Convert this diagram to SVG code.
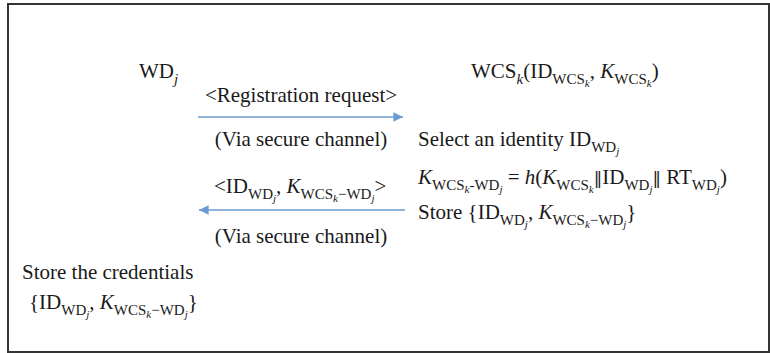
<svg xmlns="http://www.w3.org/2000/svg" width="770" height="353" viewBox="0 0 770 353">
<style>
text{font-family:"Liberation Serif","Times New Roman",serif;font-size:21px;fill:#1a1a1a}
.s{font-size:15px}
.ss{font-size:11px}
.i{font-style:italic}
.bar{font-family:"DejaVu Serif",serif;font-size:17px}
.conn{stroke:#6C9BD2;stroke-width:1.6;fill:none}
</style>
<defs>
<marker id="ah" viewBox="0 0 10 10" refX="10" refY="5" markerWidth="6" markerHeight="6" markerUnits="strokeWidth" orient="auto">
<path d="M0,0 L10,5 L0,10 Z" fill="#6C9BD2"/>
</marker>
</defs>
<rect x="8" y="4" width="761" height="348" fill="#fff" stroke="#333" stroke-width="2"/>
<g id="connectors">
<line class="conn" x1="198" y1="117" x2="403" y2="117" marker-end="url(#ah)"/>
<line class="conn" x1="405" y1="210" x2="199" y2="210" marker-end="url(#ah)"/>
</g>
<g id="node-wd">
<text x="139" y="78">WD<tspan class="s i" y="84">j</tspan></text>
</g>
<g id="node-wcs">
<text x="471" y="78">WCS<tspan class="s i" y="84">k</tspan><tspan y="78">(ID</tspan><tspan class="s" y="84">WCS</tspan><tspan class="ss i" y="87">k</tspan><tspan y="78">, </tspan><tspan class="i" y="78">K</tspan><tspan class="s" y="84">WCS</tspan><tspan class="ss i" y="87">k</tspan><tspan y="78">)</tspan></text>
</g>
<g id="msg1">
<text x="301" y="102" text-anchor="middle">&lt;Registration request&gt;</text>
<text x="301" y="146" text-anchor="middle">(Via secure channel)</text>
</g>
<g id="wcs-steps">
<text x="418" y="146">Select an identity ID<tspan class="s" y="152">WD</tspan><tspan class="ss i" y="155">j</tspan></text>
<text x="418" y="184"><tspan class="i">K</tspan><tspan class="s" y="190">WCS</tspan><tspan class="ss i" y="193">k</tspan><tspan class="s" y="190">-WD</tspan><tspan class="ss i" y="193">j</tspan><tspan y="184"> = </tspan><tspan class="i" y="184">h</tspan><tspan y="184">(</tspan><tspan class="i" y="184">K</tspan><tspan class="s" y="190">WCS</tspan><tspan class="ss i" y="193">k</tspan><tspan class="bar" y="184">‖</tspan><tspan y="184">ID</tspan><tspan class="s" y="190">WD</tspan><tspan class="ss i" y="193">j</tspan><tspan class="bar" y="184">‖</tspan><tspan y="184"> RT</tspan><tspan class="s" y="190">WD</tspan><tspan class="ss i" y="193">j</tspan><tspan y="184">)</tspan></text>
<text x="418" y="219">Store {ID<tspan class="s" y="225">WD</tspan><tspan class="ss i" y="228">j</tspan><tspan y="219">, </tspan><tspan class="i" y="219">K</tspan><tspan class="s" y="225">WCS</tspan><tspan class="ss i" y="228">k</tspan><tspan class="s" y="225">−WD</tspan><tspan class="ss i" y="228">j</tspan><tspan y="219">}</tspan></text>
</g>
<g id="msg2">
<text x="214" y="193">&lt;ID<tspan class="s" y="199">WD</tspan><tspan class="ss i" y="202">j</tspan><tspan y="193">, </tspan><tspan class="i" y="193">K</tspan><tspan class="s" y="199">WCS</tspan><tspan class="ss i" y="202">k</tspan><tspan class="s" y="199">−WD</tspan><tspan class="ss i" y="202">j</tspan><tspan y="193">&gt;</tspan></text>
<text x="301" y="243" text-anchor="middle">(Via secure channel)</text>
</g>
<g id="node-store">
<text x="22" y="279">Store the credentials</text>
<text x="29" y="309">{ID<tspan class="s" y="315">WD</tspan><tspan class="ss i" y="318">j</tspan><tspan y="309">, </tspan><tspan class="i" y="309">K</tspan><tspan class="s" y="315">WCS</tspan><tspan class="ss i" y="318">k</tspan><tspan class="s" y="315">−WD</tspan><tspan class="ss i" y="318">j</tspan><tspan y="309">}</tspan></text>
</g>
</svg>
